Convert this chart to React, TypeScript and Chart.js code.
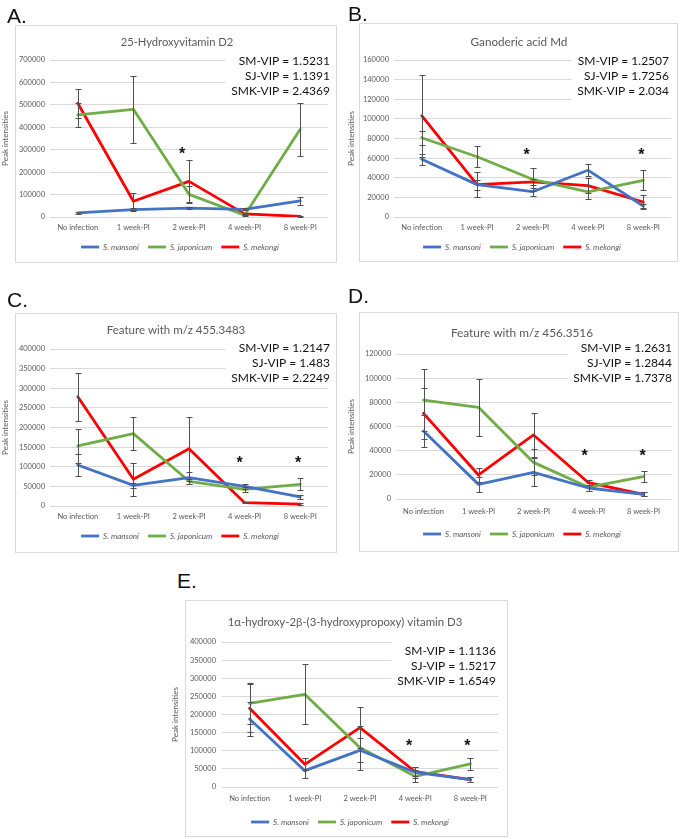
import React, { useEffect, useRef } from "react";
import { Chart, registerables } from "chart.js";

Chart.register(...registerables);
Chart.defaults.font.family = "Lato, 'Open Sans', sans-serif";

// ---------- shared data ----------
const categories = ["No infection", "1 week-PI", "2 week-PI", "4 week-PI", "8 week-PI"];
const seriesNames = ["S. mansoni", "S. japonicum", "S. mekongi"];
const yAxisTitle = "Peak intensities";

// ---------- Panel A ----------
const aTitle = "25-Hydroxyvitamin D2";
const aMansoni = [18000, 33000, 40000, 34000, 72000];
const aMansoniErr = [3000, 5000, 5000, 4000, 17000];
const aJaponicum = [455000, 480000, 101000, 8000, 391000];
const aJaponicumErr = [53000, 149000, 36000, 4000, 119000];
const aMekongi = [507000, 70000, 159000, 14000, 3000];
const aMekongiErr = [65000, 39000, 97000, 4000, 2000];
const aYMax = 700000;
const aYStep = 100000;
const aVip = ["SM-VIP = 1.5231", "SJ-VIP = 1.1391", "SMK-VIP = 2.4369"];
const aStarCats = ["2 week-PI"];
const aStarValues = [298000];

// ---------- Panel B ----------
const bTitle = "Ganoderic acid Md";
const bMansoni = [58800, 33000, 25800, 47700, 11200];
const bMansoniErr = [5800, 5000, 4000, 6000, 2000];
const bJaponicum = [80800, 61400, 38400, 25500, 37400];
const bJaponicumErr = [7300, 10600, 11500, 7000, 10300];
const bMekongi = [103200, 33000, 35700, 32000, 15300];
const bMekongiErr = [41800, 13000, 3000, 8000, 6800];
const bYMax = 160000;
const bYStep = 20000;
const bVip = ["SM-VIP = 1.2507", "SJ-VIP = 1.7256", "SMK-VIP = 2.034"];
const bStarCats = ["2 week-PI", "8 week-PI"];
const bStarValues = [68000, 68000];

// ---------- Panel C ----------
const cTitle = "Feature with m/z 455.3483";
const cMansoni = [104500, 52700, 72100, 50000, 23000];
const cMansoniErr = [28000, 6000, 15000, 7000, 4000];
const cJaponicum = [152900, 184300, 62900, 42500, 55300];
const cJaponicumErr = [42500, 42500, 6000, 6000, 15000];
const cMekongi = [278500, 68000, 146000, 8400, 5000];
const cMekongiErr = [61000, 42300, 81500, 2000, 1500];
const cYMax = 400000;
const cYStep = 50000;
const cVip = ["SM-VIP = 1.2147", "SJ-VIP = 1.483", "SMK-VIP = 2.2249"];
const cStarCats = ["4 week-PI", "8 week-PI"];
const cStarValues = [121500, 121500];

// ---------- Panel D ----------
const dTitle = "Feature with m/z 456.3516";
const dMansoni = [56300, 12100, 22100, 9100, 3900];
const dMansoniErr = [13000, 6000, 11600, 2500, 1500];
const dJaponicum = [81900, 75900, 30300, 9800, 18500];
const dJaponicumErr = [25700, 23400, 10800, 3500, 4700];
const dMekongi = [70900, 19900, 53000, 13500, 3900];
const dMekongiErr = [21200, 5500, 18400, 2000, 1500];
const dYMax = 120000;
const dYStep = 20000;
const dVip = ["SM-VIP = 1.2631", "SJ-VIP = 1.2844", "SMK-VIP = 1.7378"];
const dStarCats = ["4 week-PI", "8 week-PI"];
const dStarValues = [39200, 39200];

// ---------- Panel E ----------
const eTitle = "1α-hydroxy-2β-(3-hydroxypropoxy) vitamin D3";
const eMansoni = [187600, 45000, 101200, 40300, 20100];
const eMansoniErr = [46000, 21000, 33000, 15000, 7000];
const eJaponicum = [230900, 255700, 108400, 29300, 64000];
const eJaponicumErr = [57000, 82800, 61000, 16500, 17000];
const eMekongi = [217100, 62600, 163600, 42100, 20100];
const eMekongiErr = [66000, 16600, 57100, 12000, 7000];
const eYMax = 400000;
const eYStep = 50000;
const eVip = ["SM-VIP = 1.1136", "SJ-VIP = 1.5217", "SMK-VIP = 1.6549"];
const eStarCats = ["4 week-PI", "8 week-PI"];
const eStarValues = [125400, 125400];

// ---------- styles ----------
const COLORS = ["#4472C4", "#70AD47", "#FF0000"];
const GRAY = "#595959";
const GRID = "#D9D9D9";

type Layout = {
  label: string; labelX: number; labelY: number;
  left: number; top: number; w: number; h: number;
  box: [number, number, number, number];
  plotL: number; plotR: number; plotT: number; plotB: number;
  titleY: number; titleC: number; titleSize: number; xlabY: number; legendY: number; legendC: number;
  yTickR: number; yTitleX: number; vipDY: number; vipDX: number; starDX: number[];
};

type PanelData = {
  title: string; series: number[][]; errors: number[][];
  yMax: number; yStep: number; vip: string[]; starCats: string[]; starValues: number[];
};

const panels: { layout: Layout; data: PanelData }[] = [
  {
    layout: { label: "A.", labelX: 7, labelY: 5, left: 0, top: 25, w: 341, h: 238, box: [15, 25, 322, 238],
      plotL: 50, plotR: 328, plotT: 35, plotB: 192, titleY: 17, titleC: 177, titleSize: 11.2, xlabY: 203, legendY: 222, legendC: 180,
      yTickR: 45, yTitleX: 5, vipDY: 1, vipDX: 2, starDX: [-7] },
    data: { title: aTitle, series: [aMansoni, aJaponicum, aMekongi], errors: [aMansoniErr, aJaponicumErr, aMekongiErr],
      yMax: aYMax, yStep: aYStep, vip: aVip, starCats: aStarCats, starValues: aStarValues },
  },
  {
    layout: { label: "B.", labelX: 348, labelY: 3, left: 341, top: 23, w: 341, h: 239, box: [359, 23, 319, 239],
      plotL: 53, plotR: 330, plotT: 37, plotB: 194, titleY: 19, titleC: 178, titleSize: 11.7, xlabY: 205, legendY: 224, legendC: 181,
      yTickR: 48, yTitleX: 10, vipDY: 1, vipDX: -2, starDX: [-6, -2] },
    data: { title: bTitle, series: [bMansoni, bJaponicum, bMekongi], errors: [bMansoniErr, bJaponicumErr, bMekongiErr],
      yMax: bYMax, yStep: bYStep, vip: bVip, starCats: bStarCats, starValues: bStarValues },
  },
  {
    layout: { label: "C.", labelX: 7, labelY: 289, left: 0, top: 313, w: 341, h: 240, box: [15, 313, 322, 240],
      plotL: 50, plotR: 328, plotT: 36, plotB: 193, titleY: 17, titleC: 176, titleSize: 11.5, xlabY: 204, legendY: 223, legendC: 180,
      yTickR: 45, yTitleX: 5, vipDY: -1, vipDX: 2, starDX: [-5, -2] },
    data: { title: cTitle, series: [cMansoni, cJaponicum, cMekongi], errors: [cMansoniErr, cJaponicumErr, cMekongiErr],
      yMax: cYMax, yStep: cYStep, vip: cVip, starCats: cStarCats, starValues: cStarValues },
  },
  {
    layout: { label: "D.", labelX: 348, labelY: 285, left: 341, top: 312, w: 341, h: 240, box: [359, 312, 320, 240],
      plotL: 55, plotR: 330, plotT: 42, plotB: 187, titleY: 21, titleC: 181, titleSize: 11.8, xlabY: 200, legendY: 222, legendC: 181,
      yTickR: 50, yTitleX: 10, vipDY: -6, vipDX: 1, starDX: [-4, -1] },
    data: { title: dTitle, series: [dMansoni, dJaponicum, dMekongi], errors: [dMansoniErr, dJaponicumErr, dMekongiErr],
      yMax: dYMax, yStep: dYStep, vip: dVip, starCats: dStarCats, starValues: dStarValues },
  },
  {
    layout: { label: "E.", labelX: 177, labelY: 570, left: 170, top: 600, w: 341, h: 237, box: [185, 600, 323, 237],
      plotL: 52, plotR: 328, plotT: 42, plotB: 187, titleY: 22, titleC: 175, titleSize: 11.4, xlabY: 199, legendY: 222, legendC: 180,
      yTickR: 46, yTitleX: 5, vipDY: 9, vipDX: -2, starDX: [-6, -3] },
    data: { title: eTitle, series: [eMansoni, eJaponicum, eMekongi], errors: [eMansoniErr, eJaponicumErr, eMekongiErr],
      yMax: eYMax, yStep: eYStep, vip: eVip, starCats: eStarCats, starValues: eStarValues },
  },
];

// ---------- plugins ----------
const errorBarPlugin = {
  id: "errorBars",
  afterDatasetsDraw(chart: any) {
    const { ctx } = chart;
    const y = chart.scales.y;
    ctx.save();
    ctx.strokeStyle = "#505050";
    ctx.lineWidth = 1;
    chart.data.datasets.forEach((ds: any, di: number) => {
      const errs: number[] | undefined = ds.errorBars;
      if (!errs) return;
      const meta = chart.getDatasetMeta(di);
      meta.data.forEach((pt: any, i: number) => {
        const v = ds.data[i];
        const e = errs[i];
        const top = Math.round(y.getPixelForValue(v + e)) + 0.5;
        const bot = Math.round(y.getPixelForValue(Math.max(v - e, 0))) + 0.5;
        const x = Math.round(pt.x) + 0.5;
        ctx.beginPath();
        ctx.moveTo(x, top); ctx.lineTo(x, bot);
        ctx.moveTo(x - 3, top); ctx.lineTo(x + 3, top);
        ctx.moveTo(x - 3, bot); ctx.lineTo(x + 3, bot);
        ctx.stroke();
      });
    });
    ctx.restore();
  },
};

// shift the (full-width) title and legend boxes so they are centred where the reference has them
const centerPlugin = {
  id: "centerBoxes",
  afterLayout(chart: any, _args: any, opts: any) {
    const shift = (b: any, c: number) => {
      if (!b) return;
      const dx = c - (b.left + b.right) / 2;
      b.left += dx;
      b.right += dx;
    };
    shift(chart.legend, opts.legendC);
    shift(chart.titleBlock, opts.titleC);
  },
};

const annotPlugin = {
  id: "annot",
  beforeDatasetsDraw(chart: any, _args: any, opts: any) {
    const { ctx, chartArea } = chart;
    ctx.save();
    ctx.font = "12px Lato, 'Open Sans', sans-serif";
    const w = Math.max(...opts.vip.map((t: string) => ctx.measureText(t).width));
    const right = chartArea.right + opts.vipDX;
    const y0 = chartArea.top + opts.vipDY;
    const lineH = 15.3;
    const bx = right - w - 6;
    ctx.fillStyle = "#ffffff";
    ctx.fillRect(bx, y0 - 10, chartArea.right + 2 - bx, (opts.vip.length - 1) * lineH + 19);
    ctx.fillStyle = "#111111";
    ctx.textAlign = "right";
    ctx.textBaseline = "middle";
    opts.vip.forEach((t: string, i: number) => ctx.fillText(t, right, y0 + i * lineH));
    ctx.restore();
  },
  afterDatasetsDraw(chart: any, _args: any, opts: any) {
    const { ctx } = chart;
    const xs = chart.scales.x;
    const ys = chart.scales.y;
    ctx.save();
    const size = 16;
    ctx.font = `bold ${size}px 'Liberation Sans', Arial, sans-serif`;
    ctx.fillStyle = "#111111";
    ctx.textAlign = "center";
    ctx.textBaseline = "alphabetic";
    opts.starCats.forEach((c: string, i: number) => {
      const px = xs.getPixelForValue(categories.indexOf(c)) + (opts.starDX[i] || 0);
      const py = ys.getPixelForValue(opts.starValues[i]);
      ctx.fillText("*", px, py + 0.58 * size);
    });
    ctx.restore();
  },
};

function makeConfig(L: Layout, D: PanelData): any {
  const lhTitle = L.titleSize * 1.2;
  const lhX = 7.5 * 1.2;
  const lhY = 8 * 1.2;
  const legPad = 9;
  return {
    type: "line",
    data: {
      labels: categories,
      datasets: D.series.map((s, i) => ({
        label: seriesNames[i],
        data: s,
        errorBars: D.errors[i],
        borderColor: COLORS[i],
        backgroundColor: COLORS[i],
        borderWidth: 2.8,
        borderJoinStyle: "round",
        borderCapStyle: "round",
        pointRadius: 0,
        pointHoverRadius: 0,
        tension: 0,
        fill: false,
      })),
    },
    options: {
      animation: false,
      responsive: true,
      maintainAspectRatio: false,
      events: [],
      layout: { padding: { left: 0, right: L.w - L.plotR, top: 0, bottom: L.h - L.legendY - 14 } },
      plugins: {
        title: {
          display: true,
          text: D.title,
          color: GRAY,
          font: { size: L.titleSize, weight: "normal" },
          padding: { top: L.titleY - lhTitle / 2, bottom: L.plotT - L.titleY - lhTitle / 2 },
        },
        legend: {
          position: "bottom",
          labels: {
            usePointStyle: true,
            pointStyle: "line",
            pointStyleWidth: 18,
            padding: legPad,
            color: GRAY,
            font: { size: 8, style: "italic" },
          },
        },
        tooltip: { enabled: false },
        centerBoxes: { legendC: L.legendC, titleC: L.titleC },
        annot: {
          vip: D.vip, vipDX: L.vipDX, vipDY: L.vipDY,
          starCats: D.starCats, starValues: D.starValues, starDX: L.starDX,
        },
      },
      scales: {
        x: {
          offset: true,
          grid: { display: false, drawTicks: false, offset: true },
          border: { display: false },
          ticks: { color: GRAY, font: { size: 7.5 }, padding: L.xlabY - L.plotB - lhX / 2, maxRotation: 0, autoSkip: false },
          afterFit: (s: any) => { s.height = L.legendY - legPad - 4 - L.plotB; },
        },
        y: {
          min: 0,
          max: D.yMax,
          ticks: {
            stepSize: D.yStep,
            color: GRAY,
            font: { size: 7.5 },
            padding: L.plotL - L.yTickR,
            callback: (v: any) => String(v),
          },
          grid: { color: GRID, drawTicks: false, lineWidth: 1 },
          border: { display: false },
          title: {
            display: true,
            text: yAxisTitle,
            color: GRAY,
            font: { size: 8 },
            padding: { top: L.yTitleX - lhY / 2, bottom: 0 },
          },
          afterFit: (s: any) => { s.width = L.plotL; },
        },
      },
    },
    plugins: [errorBarPlugin, centerPlugin, annotPlugin],
  };
}

function ChartPanel({ layout, data }: { layout: Layout; data: PanelData }) {
  const ref = useRef<HTMLCanvasElement | null>(null);
  useEffect(() => {
    if (!ref.current) return;
    const chart = new Chart(ref.current, makeConfig(layout, data));
    return () => chart.destroy();
  }, []);
  const [bl, bt, bw, bh] = layout.box;
  return (
    <>
      <div
        style={{
          position: "absolute", left: bl, top: bt, width: bw, height: bh,
          boxSizing: "border-box", border: `1px solid ${GRID}`, background: "#fff",
        }}
      />
      <div style={{ position: "absolute", left: layout.left, top: layout.top, width: layout.w, height: layout.h }}>
        <canvas ref={ref} />
      </div>
      <div
        style={{
          position: "absolute", left: layout.labelX, top: layout.labelY,
          fontFamily: "'Liberation Sans', Arial, sans-serif", fontSize: 21, lineHeight: "21px", color: "#111",
        }}
      >
        {layout.label}
      </div>
    </>
  );
}

export default function App() {
  return (
    <div style={{ position: "absolute", left: 0, top: 0, width: 682, height: 839, background: "#fff", overflow: "hidden" }}>
      {panels.map((p, i) => (
        <ChartPanel key={i} layout={p.layout} data={p.data} />
      ))}
    </div>
  );
}
